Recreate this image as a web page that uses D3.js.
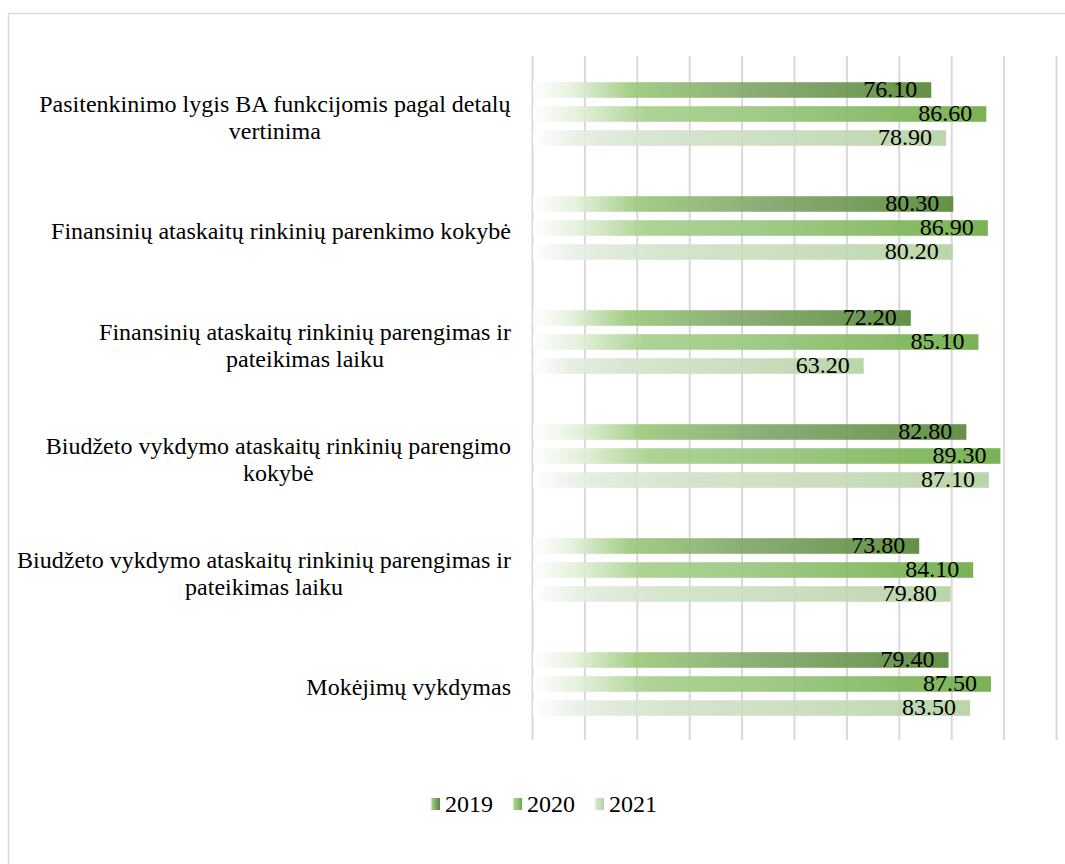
<!DOCTYPE html>
<html>
<head>
<meta charset="utf-8">
<script src="https://cdn.jsdelivr.net/npm/d3@7"></script>
<style>
  body { margin: 0; background: #fff; }
  text { font-family: "Liberation Serif", "Times New Roman", serif; fill: #000; }
</style>
</head>
<body>
<svg id="chart" width="1065" height="864"></svg>
<script>
/* DATA */
var categories = [
  ["Pasitenkinimo lygis BA funkcijomis pagal detalų", "vertinima"],
  ["Finansinių ataskaitų rinkinių parenkimo kokybė"],
  ["Finansinių ataskaitų rinkinių parengimas ir", "pateikimas laiku"],
  ["Biudžeto vykdymo ataskaitų rinkinių parengimo", "kokybė"],
  ["Biudžeto vykdymo ataskaitų rinkinių parengimas ir", "pateikimas laiku"],
  ["Mokėjimų vykdymas"]
];
var series = ["2019", "2020", "2021"];
var values2019 = [76.10, 80.30, 72.20, 82.80, 73.80, 79.40];
var values2020 = [86.60, 86.90, 85.10, 89.30, 84.10, 87.50];
var values2021 = [78.90, 80.20, 63.20, 87.10, 79.80, 83.50];
var xTicks = [0, 10, 20, 30, 40, 50, 60, 70, 80, 90, 100];

var allValues = [values2019, values2020, values2021];
var gradStops = [
  [["0%", "#ffffff"], ["10%", "#e4f0dc"], ["25%", "#9cc97c"], ["55%", "#80a66a"], ["100%", "#578737"]],
  [["0%", "#ffffff"], ["10%", "#e2efd9"], ["25%", "#a6d08b"], ["50%", "#98c67e"], ["100%", "#6eab45"]],
  [["0%", "#ffffff"], ["12%", "#e3ede0"], ["30%", "#d3e3cb"], ["60%", "#c8dcbc"], ["100%", "#b5d2a3"]]
];

var svg = d3.select('#chart');
var fontSize = 24;

/* border of the chart area */
svg.append('rect')
  .attr('x', 8.5).attr('y', 13.5)
  .attr('width', 1100).attr('height', 900)
  .attr('fill', 'none').attr('stroke', '#d9d9d9').attr('stroke-width', 1.5);

/* gradients */
var defs = svg.append('defs');
series.forEach(function(s, i){
  var g = defs.append('linearGradient').attr('id', 'grad' + s)
    .attr('x1', '0%').attr('x2', '100%').attr('y1', '0%').attr('y2', '0%');
  gradStops[i].forEach(function(st){
    g.append('stop').attr('offset', st[0]).attr('stop-color', st[1]);
  });
});

/* SCALES */
var x = d3.scaleLinear().domain([0, 100]).range([532.5, 1056.5]);
var y = d3.scaleBand().domain(d3.range(categories.length)).range([56, 740]);
var yInner = d3.scaleBand().domain(series).range([-36, 36])
  .paddingInner(0.35).paddingOuter(0.175);

/* GRIDLINES */
svg.append('g').selectAll('line').data(xTicks).enter().append('line')
  .attr('x1', d => x(d)).attr('x2', d => x(d))
  .attr('y1', 56).attr('y2', 740)
  .attr('stroke', '#d9d9d9').attr('stroke-width', 2);

/* BARS */
var groups = svg.append('g').selectAll('g').data(categories).enter().append('g')
  .attr('transform', (d, i) => 'translate(0,' + (y(i) + y.bandwidth() / 2) + ')');

series.forEach(function(s, si){
  groups.append('rect')
    .attr('x', x(0) + 0.5)
    .attr('y', yInner(s) + 1)
    .attr('height', yInner.bandwidth())
    .attr('width', (d, i) => x(allValues[si][i]) - x(0) - 0.5)
    .attr('fill', 'url(#grad' + s + ')')
    .attr('opacity', 0.92);
  groups.append('text')
    .attr('x', (d, i) => x(allValues[si][i]) - 14)
    .attr('y', yInner(s) + yInner.bandwidth())
    .attr('text-anchor', 'end')
    .attr('font-size', fontSize)
    .text((d, i) => allValues[si][i].toFixed(2));
});

/* CATEGORY LABELS */
var labelRight = 511;
groups.each(function(lines){
  var g = d3.select(this);
  var t = g.append('text').attr('font-size', fontSize).attr('text-anchor', 'middle');
  lines.forEach(function(l, li){
    t.append('tspan').attr('x', 0)
      .attr('y', (li - (lines.length - 1) / 2) * 27 + 12)
      .text(l);
  });
  var w = t.node().getBBox().width;
  t.attr('transform', 'translate(' + (labelRight - w / 2) + ',0)');
});

/* LEGEND */
var legend = svg.append('g').attr('transform', 'translate(430,798)');
var item = legend.selectAll('g').data(series).enter().append('g')
  .attr('transform', (d, i) => 'translate(' + (i * 82) + ',0)');
item.append('rect').attr('width', 10).attr('height', 12)
  .attr('fill', d => 'url(#grad' + d + ')');
item.append('text').attr('x', 15).attr('y', 14)
  .attr('font-size', fontSize).text(d => d);
</script>
</body>
</html>
